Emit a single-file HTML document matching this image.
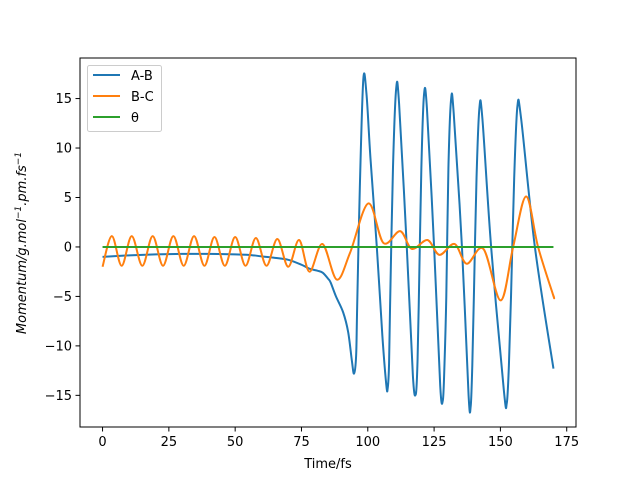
<!DOCTYPE html>
<html><head><meta charset="utf-8"><style>
body{margin:0;background:#fff;}
svg text{font-family:"DejaVu Sans","Liberation Sans",sans-serif;font-size:13px;fill:#000;}
</style></head><body>
<svg id="c" width="640" height="480" xmlns="http://www.w3.org/2000/svg"></svg>
<script>
const abT=[0,10,20,30,40,50,55,60,65,70,75,78,81,83,85,86,88,90.7,92.6,94,94.8,95.6,96,97,98.3,99.5,101,103.4,105.5,107,107.5,108,108.4,109.5,110.7,111.8,114.7,117,118.1,118.7,119.2,120.2,121.2,122.3,125,127.3,128.3,128.9,129.6,130.4,131.4,132.4,135.5,138,138.8,139.4,140,141,142.1,143.2,146.5,151.3,152.4,153.2,154,155.2,156.4,157.8,163,170];
const abV=[-1.0,-0.85,-0.75,-0.7,-0.7,-0.75,-0.8,-0.95,-1.1,-1.3,-1.8,-2.2,-2.4,-2.6,-3.2,-3.6,-5.0,-6.6,-8.6,-11.5,-12.8,-11,-6,6,16.9,15.5,9,0,-9,-14,-14.3,-12,-6,8,16.0,14.5,0,-13,-14.9,-12,-6,8,15.4,14,0,-14,-15.5,-12,-5,8,14.9,13.5,0,-15,-16.1,-12,-5,7,14.1,13,0,-14.5,-15.8,-12,-5,7,14.2,13,0,-12.3];
const bcT=[0,3.5,7.2,11,15,18.9,22.8,26.7,30.6,34.5,38.4,42.2,46.1,50,53.9,57.8,61.8,65.9,70,74.1,78,82.9,88.3,93.3,100.2,105.9,112.2,116.6,122.5,127,132.7,137.3,143.6,150.1,154.8,159.7,164.2,169.8,170];
const bcV=[-2.0,1.1,-1.9,1.1,-1.9,1.1,-1.9,1.1,-1.9,1.1,-1.9,1.0,-1.9,1.0,-1.9,0.9,-1.9,0.8,-2.0,0.7,-2.5,0.3,-3.3,-0.6,4.4,0.4,1.6,-0.2,0.7,-0.8,0.3,-1.7,-0.2,-5.4,0,5.1,0,-4.8,-4.9];
const thT=[0,170];
const thV=[0,0];
const xTicks=[0,25,50,75,100,125,150,175];
const yTicks=[-15,-10,-5,0,5,10,15];
const L=80,R=576,T=58,B=427,XMIN=-8.5,XMAX=178.5,YMIN=-18.2,YMAX=19.1;
const X=t=>L+(t-XMIN)/(XMAX-XMIN)*(R-L);
const Y=v=>T+(YMAX-v)/(YMAX-YMIN)*(B-T);
const svg=document.getElementById('c');
const NS='http://www.w3.org/2000/svg';
function mk(tag,at,parent){const e=document.createElementNS(NS,tag);for(const k in at)e.setAttribute(k,at[k]);(parent||svg).appendChild(e);return e;}
function path(ts,vs){const p=ts.map((t,i)=>[X(t),Y(vs[i])]);let d='M'+p[0][0]+','+p[0][1];
for(let i=0;i<p.length-1;i++){const p0=p[i-1]||p[i],p1=p[i],p2=p[i+1],p3=p[i+2]||p2;
d+=' C'+(p1[0]+(p2[0]-p0[0])/6)+','+(p1[1]+(p2[1]-p0[1])/6)+' '+(p2[0]-(p3[0]-p1[0])/6)+','+(p2[1]-(p3[1]-p1[1])/6)+' '+p2[0]+','+p2[1];}
return d;}
const cp=mk('clipPath',{id:'clip'});mk('rect',{x:L,y:T,width:R-L,height:B-T},cp);
const g=mk('g',{'clip-path':'url(#clip)'});
const s1=mk('path',{d:path(abT,abV),fill:'none',stroke:'#1f77b4','stroke-width':2},g);


const s2=mk('path',{d:path(bcT,bcV),fill:'none',stroke:'#ff7f0e','stroke-width':2},g);


const s3=mk('path',{d:path(thT,thV),fill:'none',stroke:'#2ca02c','stroke-width':2},g);


const fr=mk('rect',{x:L,y:T,width:R-L,height:B-T,fill:'none',stroke:'#000','stroke-width':1});


xTicks.forEach(t=>{const x=X(t);mk('line',{x1:x,x2:x,y1:B,y2:B+4.5,stroke:'#000','stroke-width':1});
const tx=mk('text',{x:x,y:B+19,'text-anchor':'middle'});tx.textContent=t;

});
yTicks.forEach(v=>{const y=Y(v);mk('line',{x1:L-4.5,x2:L,y1:y,y2:y,stroke:'#000','stroke-width':1});
const tx=mk('text',{x:L-8,y:y+4.5,'text-anchor':'end'});tx.textContent=(v<0?'\u2212'+(-v):v);

});
</script>
<svg width="640" height="480" style="position:absolute;left:0;top:0" xmlns="http://www.w3.org/2000/svg">
<text x="328" y="468" text-anchor="middle">Time/fs</text>
<text transform="translate(26,243) rotate(-90)" text-anchor="middle" font-style="italic">Momentum/g.mol<tspan dy="-5" font-size="9">−1</tspan><tspan dy="5">.pm.fs</tspan><tspan dy="-5" font-size="9">−1</tspan></text>
<g>
<rect x="87.5" y="65.5" width="74" height="66" rx="2" fill="#fff" fill-opacity="0.8" stroke="#ccc"/>
<line x1="93" x2="120" y1="75" y2="75" stroke="#1f77b4" stroke-width="2"/><text x="131" y="80">A-B</text>
<line x1="93" x2="120" y1="96" y2="96" stroke="#ff7f0e" stroke-width="2"/><text x="131" y="101">B-C</text>
<line x1="93" x2="120" y1="117" y2="117" stroke="#2ca02c" stroke-width="2"/><text x="131" y="122">θ</text>
</g>
</svg>
</body></html>
